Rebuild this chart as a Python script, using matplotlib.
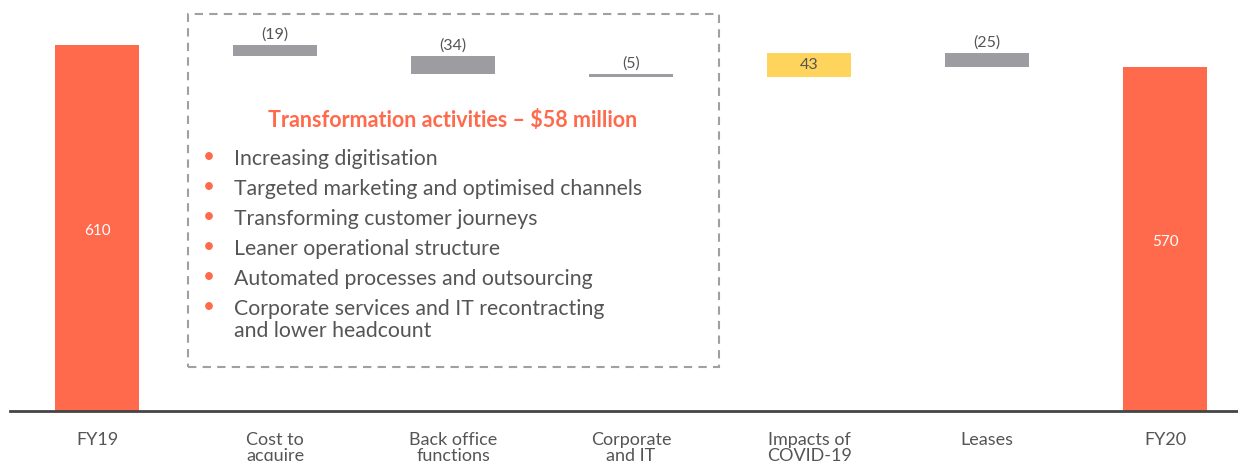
import matplotlib
matplotlib.use("Agg")
import matplotlib.pyplot as plt
from matplotlib.patches import Rectangle

plt.rcParams['font.family'] = ['Lato', 'DejaVu Sans']

categories = ["FY19", "Cost to\nacquire", "Back office\nfunctions", "Corporate\nand IT",
              "Impacts of\nCOVID-19", "Leases", "FY20"]
values = [610, -19, -34, -5, 43, -25, 570]
kinds = ["total", "delta", "delta", "delta", "delta", "delta", "total"]
value_labels = ["610", "(19)", "(34)", "(5)", "43", "(25)", "570"]

box_title = "Transformation activities – $58 million"
bullets = ["Increasing digitisation",
           "Targeted marketing and optimised channels",
           "Transforming customer journeys",
           "Leaner operational structure",
           "Automated processes and outsourcing",
           "Corporate services and IT recontracting\nand lower headcount"]

CORAL = "#FF6A4D"
GREY = "#9D9DA1"
YELLOW = "#FFD45C"
TEXT = "#555555"

W, H = 1238, 461
fig = plt.figure(figsize=(W / 100, H / 100), dpi=100)
ax = fig.add_axes([10 / W, 50 / H, 1 - 10 / W, 411 / H])
ymin, ymax = -55.5, 692
ax.set_ylim(ymin, ymax)
ax.set_xlim(-0.49, 6.41)
bw = 0.47

running = 0
for i, (v, k, lab) in enumerate(zip(values, kinds, value_labels)):
    if k == "total":
        ax.bar(i, v - ymin, bottom=ymin, width=bw, color=CORAL, linewidth=0)
        ax.text(i, (v + ymin) / 2 - 5, lab, ha="center", va="center", color="white", fontsize=11)
        running = v
    else:
        lo, hi = sorted([running, running + v])
        col = YELLOW if v > 0 else GREY
        ax.bar(i, hi - lo, bottom=lo, width=bw, color=col, linewidth=0)
        if v > 0:
            ax.text(i, (lo + hi) / 2, lab, ha="center", va="center", color=TEXT, fontsize=11.5)
        else:
            ax.text(i, hi + 6, lab, ha="center", va="bottom", color=TEXT, fontsize=11.5)
        running += v

ax.set_xticks(range(len(categories)))
ax.set_xticklabels(categories, fontsize=13, color=TEXT, linespacing=1.05)
ax.tick_params(axis="x", length=0, pad=15)
ax.set_yticks([])
for s in ["top", "left", "right"]:
    ax.spines[s].set_visible(False)
ax.spines["bottom"].set_color("#444444")
ax.spines["bottom"].set_linewidth(2)

# dashed box
fig.patches.append(Rectangle((188 / W, 1 - 367 / H), 531 / W, 353 / H, transform=fig.transFigure,
                             fill=False, edgecolor="#A0A0A0", linewidth=1.5,
                             linestyle=(0, (4, 3))))
fig.text(453 / W, 1 - 120 / H, box_title, ha="center", va="center", color=CORAL,
         fontsize=15.5, fontweight="bold")
ys = [157, 187, 217, 247, 277, 307]
for y, b in zip(ys, bullets):
    fig.text(209 / W, 1 - y / H, "•", ha="center", va="center", color=CORAL, fontsize=15)
    fig.text(234 / W, 1 - (y - 8) / H, b, ha="left", va="top", color=TEXT, fontsize=15.3,
             linespacing=1.1)

fig.savefig("out.png", dpi=100)
